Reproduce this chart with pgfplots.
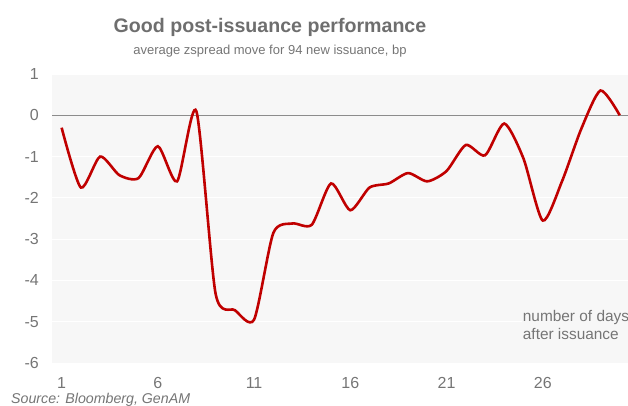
\documentclass[border=0pt]{standalone}
\usepackage{pgfplots}
\pgfplotsset{compat=1.18}
\usepackage{fontspec}
\setmainfont{Liberation Sans}
\definecolor{bgc}{HTML}{F7F7F7}
\definecolor{txt}{HTML}{757575}
\definecolor{ttl}{HTML}{6E6E6E}
\definecolor{lred}{HTML}{C00000}
\definecolor{zline}{HTML}{8C8C8C}
\pgfplotstableread{
d v
1 -0.30
2 -1.75
3 -1.00
4 -1.45
5 -1.52
6 -0.75
7 -1.60
8 0.10
9 -4.32
10 -4.72
11 -4.95
12 -2.85
13 -2.62
14 -2.65
15 -1.65
16 -2.30
17 -1.75
18 -1.65
19 -1.40
20 -1.60
21 -1.35
22 -0.72
23 -0.97
24 -0.20
25 -1.05
26 -2.55
27 -1.60
28 -0.33
29 0.60
30 0.00
}\zdata
\begin{document}
\begin{tikzpicture}[x=1bp,y=1bp]
\useasboundingbox (0,0) rectangle (628,405);
\begin{axis}[
  at={(52bp,42bp)}, anchor=south west,
  scale only axis, width=576bp, height=289bp,
  xmin=0.5, xmax=30.43, ymin=-6, ymax=1,
  axis background/.style={fill=bgc},
  axis line style={draw=none},
  major tick length=0pt,
  xtick={1,6,11,16,21,26},
  xticklabels={1,6,11,16,21,26},
  ytick={-6,-5,-4,-3,-2,-1,0,1},
  yticklabels={-6,-5,-4,-3,-2,-1,0,1},
  ymajorgrids, grid style={white, line width=1bp},
  tick label style={font=\fontsize{16bp}{18bp}\selectfont, text=txt, inner sep=0pt},
  xticklabel style={anchor=center, yshift=-19.5bp},
  yticklabel style={anchor=east, xshift=-13bp},
  clip=true,
]
\addplot[zline, line width=1.3bp] coordinates {(0.5,0) (30.43,0)};
\addplot[lred, line width=2.6bp, smooth, tension=0.42] table[x=d, y=v] {\zdata};
\end{axis}
\node[anchor=base, text=ttl, font=\fontsize{19.6bp}{22bp}\selectfont\bfseries] at (270,373) {Good post-issuance performance};
\node[anchor=base, text=txt, font=\fontsize{13bp}{15bp}\selectfont] at (270,350.5) {average zspread move for 94 new issuance, bp};
\node[anchor=base west, text=txt, fill=bgc, inner sep=1bp, font=\fontsize{15.4bp}{17bp}\selectfont] at (521.7,83.3) {number of days};
\node[anchor=base west, text=txt, fill=bgc, inner sep=1bp, font=\fontsize{15.4bp}{17bp}\selectfont] at (521.7,65.7) {after issuance};
\node[anchor=base west, text=txt, inner sep=0pt, font=\fontsize{14.2bp}{16bp}\selectfont\itshape] at (11,2) {Source: Bloomberg, GenAM};
\end{tikzpicture}
\end{document}
